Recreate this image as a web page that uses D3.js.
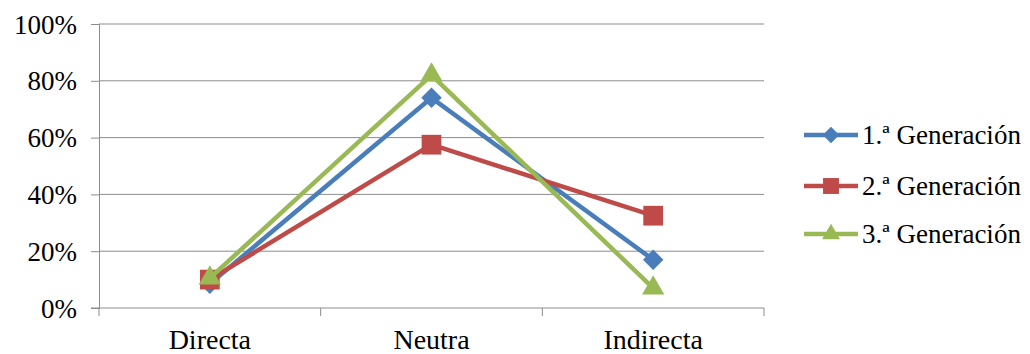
<!DOCTYPE html>
<html>
<head>
<meta charset="utf-8">
<script src="https://cdn.jsdelivr.net/npm/d3@7"></script>
<style>
  html, body { margin: 0; padding: 0; background: #fff; }
  svg { display: block; }
</style>
</head>
<body>
<svg id="chart" width="1030" height="354"></svg>
<script>
// Share of responses per category, by generation
const categories = ["Directa", "Neutra", "Indirecta"];
const seriesNames = ["1.ª Generación", "2.ª Generación", "3.ª Generación"];
const gen1 = [0.085, 0.74, 0.17];
const gen2 = [0.10, 0.575, 0.325];
const gen3 = [0.105, 0.82, 0.07];
const yTicks = [0, 0.2, 0.4, 0.6, 0.8, 1.0];

const FONT = '"Liberation Serif", "Times New Roman", "DejaVu Serif", serif';
const GRID = "#8c8c8c";

const series = [
  { name: seriesNames[0], values: gen1, color: "#4A7EBB", symbol: "diamond" },
  { name: seriesNames[1], values: gen2, color: "#BE4B48", symbol: "square" },
  { name: seriesNames[2], values: gen3, color: "#98B954", symbol: "triangle" }
];

const svg = d3.select("#chart");
const plot = { left: 99, right: 764, top: 24, bottom: 308 };

const x = d3.scaleBand().domain(categories).range([plot.left, plot.right]);
const y = d3.scaleLinear().domain([0, 1]).range([plot.bottom, plot.top]);
const cx = c => x(c) + x.bandwidth() / 2;

// Horizontal gridlines
svg.append("g")
  .selectAll("line")
  .data(yTicks.slice(1))
  .join("line")
  .attr("x1", plot.left).attr("x2", plot.right)
  .attr("y1", d => y(d)).attr("y2", d => y(d))
  .attr("stroke", GRID).attr("stroke-width", 1);

// Y axis
const yAxis = svg.append("g")
  .attr("transform", `translate(${plot.left},0)`)
  .call(d3.axisLeft(y).tickValues(yTicks).tickFormat(d3.format(".0%")).tickSize(8).tickPadding(14));
yAxis.select(".domain").attr("stroke", GRID);
yAxis.selectAll(".tick line").attr("stroke", GRID);
yAxis.selectAll(".tick text")
  .style("font-family", FONT)
  .style("font-size", "27px")
  .attr("fill", "#000")
  .attr("dy", "0.34em");

// X axis with ticks on category boundaries
const xAxis = svg.append("g").attr("transform", `translate(0,${plot.bottom})`);
xAxis.append("line")
  .attr("x1", plot.left - 8).attr("x2", plot.right)
  .attr("stroke", GRID);
const bounds = categories.map(c => x(c)).concat([plot.right]);
xAxis.selectAll("line.tk")
  .data(bounds)
  .join("line").attr("class", "tk")
  .attr("x1", d => d).attr("x2", d => d)
  .attr("y1", 0).attr("y2", 8)
  .attr("stroke", GRID);
xAxis.selectAll("text")
  .data(categories)
  .join("text")
  .attr("x", d => cx(d))
  .attr("y", 41)
  .attr("text-anchor", "middle")
  .style("font-family", FONT)
  .style("font-size", "28px")
  .attr("fill", "#000")
  .text(d => d);

// Marker shapes: diamond is a square turned 45 degrees
const symbolType = { diamond: d3.symbolSquare, square: d3.symbolSquare, triangle: d3.symbolTriangle };
const symbolSize = { diamond: 210, square: 390, triangle: 215 };
const symbolRotate = { diamond: 45, square: 0, triangle: 0 };

const line = d3.line()
  .x((d, i) => cx(categories[i]))
  .y(d => y(d));

// Lines and markers
series.forEach(s => {
  const g = svg.append("g");
  g.append("path")
    .attr("d", line(s.values))
    .attr("fill", "none")
    .attr("stroke", s.color)
    .attr("stroke-width", 4.5)
    .attr("stroke-linejoin", "round");
  g.selectAll("path.m")
    .data(s.values)
    .join("path").attr("class", "m")
    .attr("transform", (d, i) => `translate(${cx(categories[i])},${y(d)}) rotate(${symbolRotate[s.symbol]})`)
    .attr("d", d3.symbol().type(symbolType[s.symbol]).size(symbolSize[s.symbol]))
    .attr("fill", s.color);
});

// Legend
const legend = svg.append("g");
const legendY = [135, 186, 234];
series.forEach((s, i) => {
  const g = legend.append("g").attr("transform", `translate(0,${legendY[i]})`);
  g.append("line")
    .attr("x1", 804).attr("x2", 858)
    .attr("stroke", s.color).attr("stroke-width", 4.5);
  g.append("path")
    .attr("transform", `translate(831,0) rotate(${symbolRotate[s.symbol]})`)
    .attr("d", d3.symbol().type(symbolType[s.symbol]).size(symbolSize[s.symbol] * 0.65))
    .attr("fill", s.color);
  g.append("text")
    .attr("x", 862).attr("y", 9)
    .style("font-family", FONT)
    .style("font-size", "27px")
    .attr("fill", "#000")
    .text(s.name);
});
</script>
</body>
</html>
